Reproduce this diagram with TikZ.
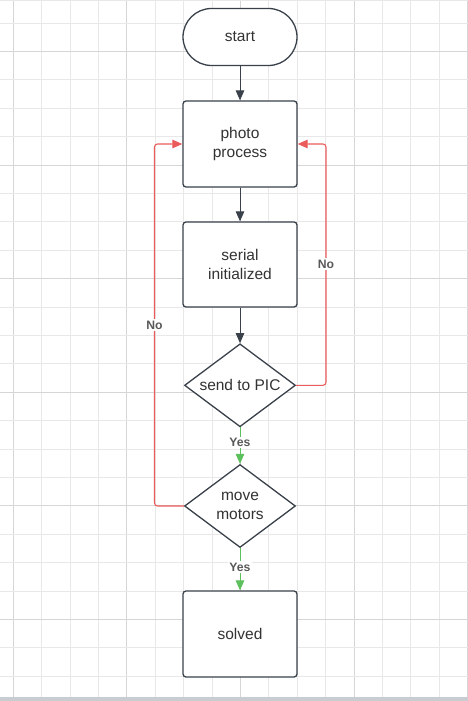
\documentclass[tikz,border=0pt]{standalone}
\usepackage{fontspec}
\setmainfont{Liberation Sans}
\usetikzlibrary{arrows.meta,shapes.geometric}
\definecolor{lineclr}{HTML}{3A414A}
\definecolor{txtclr}{HTML}{333333}
\definecolor{lblclr}{HTML}{595959}
\definecolor{redclr}{RGB}{234,92,92}
\definecolor{greenclr}{RGB}{92,192,92}
\definecolor{gridminor}{HTML}{E8E8E8}
\definecolor{gridmajor}{HTML}{D6D6D6}
\definecolor{barclr}{HTML}{C9CCD1}
\tikzset{
  box/.style={draw=lineclr,line width=1.3bp,fill=white,rectangle,rounded corners=3bp,
    minimum width=114bp,minimum height=86bp,inner sep=0pt,align=center,
    text=txtclr,font=\fontsize{15.5bp}{19bp}\selectfont},
  pill/.style={box,rounded corners=28.5bp,minimum height=57bp},
  dia/.style={draw=lineclr,line width=1.3bp,fill=white,diamond,
    minimum width=111bp,minimum height=83bp,inner sep=0pt},
  dtext/.style={align=center,text=txtclr,font=\fontsize{15.5bp}{19bp}\selectfont},
  flow/.style={draw=lineclr,line width=1bp,-{Triangle[width=8.5bp,length=10bp]}},
  yesflow/.style={draw=greenclr,line width=1bp,-{Triangle[width=8.5bp,length=10bp]}},
  noflow/.style={draw=redclr,line width=1.1bp,rounded corners=3bp,-{Triangle[width=8.5bp,length=10bp]}},
  elabel/.style={fill=white,inner sep=1.5bp,text=lblclr,font=\fontsize{12.2bp}{14bp}\selectfont\bfseries},
}
\begin{document}
\begin{tikzpicture}[x=1bp,y=-1bp]
\useasboundingbox (0,0) rectangle (468,701);
\fill[white] (0,0) rectangle (468,701);
% grid
\foreach \k in {0,...,16}{
  \pgfmathsetmacro{\xx}{13.3+28.4*\k}
  \pgfmathtruncatemacro{\m}{mod(\k,4)}
  \ifnum\m=0
    \draw[gridmajor,line width=1bp] (\xx,0) -- (\xx,697);
  \else
    \draw[gridminor,line width=1bp] (\xx,0) -- (\xx,697);
  \fi
}
\foreach \k in {-1,...,22}{
  \pgfmathsetmacro{\yy}{51.5+28.4*\k}
  \pgfmathtruncatemacro{\m}{mod(\k+4,4)}
  \ifnum\m=0
    \draw[gridmajor,line width=1bp] (0,\yy) -- (468,\yy);
  \else
    \draw[gridminor,line width=1bp] (0,\yy) -- (468,\yy);
  \fi
}
\draw[gridminor,line width=1bp] (0,0.8) -- (468,0.8);
\fill[barclr] (0,697) rectangle (468,701);
% nodes
\node[pill] (start) at (240,37) {start};
\node[box] (photo) at (240,144) {photo\\process};
\node[box,minimum height=85bp] (serial) at (240,264.5) {serial\\initialized};
\node[dia,label={[dtext]center:send to PIC}] (send) at (240,385.3) {};
\node[dia,label={[dtext]center:move\\motors}] (move) at (240,506) {};
\node[box] (solved) at (240,634) {solved};
\coordinate (rx) at (326,0);
\coordinate (lx) at (154.5,0);
% connectors
\draw[flow] (start.south) -- (photo.north);
\draw[flow] (photo.south) -- (serial.north);
\draw[flow] (serial.south) -- (send.north);
\draw[yesflow] (send.south) -- node[elabel,pos=0.42] (y1) {Yes} (move.north);
\draw[yesflow] (move.south) -- node[elabel,pos=0.45] (y2) {Yes} (solved.north);
\draw[noflow] (send.east) -- (send.east -| rx) -- (rx |- photo.east) -- (photo.east);
\draw[noflow] (move.west) -- (move.west -| lx) -- (lx |- photo.west) -- (photo.west);
\node[elabel] (n1) at (326,264) {No};
\node[elabel] (n2) at (154.5,325) {No};
\end{tikzpicture}
\end{document}
